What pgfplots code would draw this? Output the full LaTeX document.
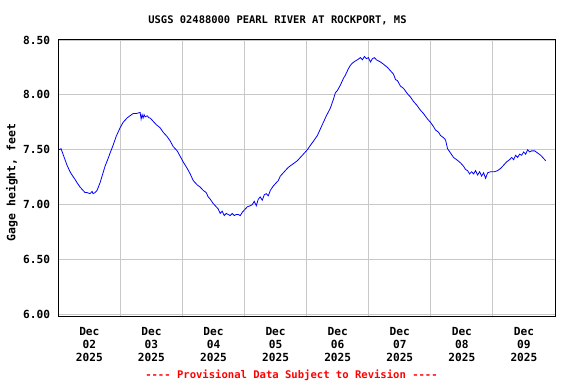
\documentclass[border=0pt]{standalone}
\usepackage{fontspec}
\setmainfont{DejaVu Sans Mono}
\usepackage{pgfplots}
\pgfplotsset{compat=1.18}
\usepackage{pgfplotstable}
\definecolor{gridgray}{RGB}{200,200,200}
\pgfplotstableread{
d v
0.011 7.50
0.044 7.51
0.076 7.46
0.108 7.41
0.140 7.36
0.189 7.30
0.221 7.27
0.269 7.23
0.302 7.20
0.350 7.16
0.382 7.14
0.431 7.11
0.463 7.11
0.511 7.10
0.544 7.12
0.560 7.10
0.592 7.11
0.624 7.13
0.673 7.20
0.721 7.29
0.753 7.35
0.802 7.42
0.834 7.47
0.882 7.54
0.931 7.62
0.995 7.70
1.044 7.75
1.108 7.79
1.156 7.81
1.205 7.83
1.253 7.83
1.318 7.84
1.334 7.78
1.350 7.82
1.366 7.79
1.382 7.82
1.398 7.80
1.431 7.81
1.463 7.79
1.479 7.79
1.527 7.76
1.576 7.73
1.640 7.70
1.689 7.66
1.753 7.62
1.802 7.58
1.850 7.53
1.915 7.49
1.963 7.44
2.011 7.39
2.076 7.33
2.124 7.28
2.173 7.22
2.237 7.18
2.285 7.16
2.334 7.13
2.382 7.11
2.415 7.07
2.447 7.05
2.495 7.01
2.544 6.98
2.576 6.96
2.608 6.92
2.640 6.94
2.673 6.90
2.705 6.92
2.737 6.91
2.769 6.90
2.802 6.92
2.834 6.90
2.866 6.91
2.898 6.91
2.931 6.90
2.963 6.93
2.995 6.95
3.044 6.98
3.092 6.99
3.124 7.00
3.156 7.03
3.189 6.99
3.221 7.05
3.253 7.07
3.285 7.04
3.318 7.09
3.350 7.10
3.382 7.08
3.415 7.13
3.463 7.17
3.511 7.20
3.544 7.22
3.576 7.26
3.624 7.29
3.656 7.31
3.705 7.34
3.753 7.36
3.802 7.38
3.850 7.40
3.898 7.43
3.947 7.46
4.011 7.50
4.060 7.54
4.124 7.59
4.173 7.63
4.221 7.69
4.269 7.75
4.318 7.81
4.382 7.88
4.431 7.96
4.463 8.02
4.495 8.04
4.544 8.09
4.592 8.15
4.624 8.18
4.673 8.24
4.705 8.27
4.737 8.29
4.786 8.31
4.818 8.32
4.866 8.34
4.898 8.32
4.931 8.35
4.963 8.33
4.995 8.34
5.027 8.30
5.060 8.33
5.092 8.34
5.124 8.32
5.156 8.31
5.189 8.30
5.237 8.28
5.302 8.25
5.350 8.22
5.398 8.19
5.431 8.14
5.463 8.13
5.511 8.08
5.560 8.06
5.624 8.01
5.673 7.98
5.721 7.94
5.769 7.91
5.834 7.86
5.882 7.83
5.947 7.78
5.995 7.75
6.044 7.71
6.076 7.68
6.124 7.66
6.156 7.63
6.205 7.61
6.237 7.59
6.269 7.51
6.318 7.47
6.366 7.43
6.415 7.41
6.479 7.38
6.527 7.35
6.560 7.32
6.592 7.31
6.624 7.28
6.657 7.30
6.689 7.28
6.721 7.31
6.753 7.27
6.786 7.30
6.818 7.26
6.850 7.29
6.882 7.24
6.915 7.29
6.963 7.30
7.027 7.30
7.076 7.31
7.124 7.33
7.173 7.36
7.221 7.39
7.269 7.41
7.302 7.43
7.334 7.41
7.366 7.45
7.398 7.43
7.431 7.46
7.463 7.45
7.495 7.48
7.527 7.46
7.560 7.50
7.592 7.48
7.624 7.49
7.673 7.49
7.721 7.47
7.769 7.45
7.802 7.43
7.850 7.40
}\gage
\begin{document}
\begin{tikzpicture}
\begin{axis}[
  at={(58.3bp,68bp)}, anchor=south west,
  scale only axis, width=496.7bp, height=276.5bp,
  xmin=0, xmax=8, ymin=5.985, ymax=8.505,
  axis line style={black, line width=1bp},
  tick style={draw=none},
  major tick length=0pt, minor tick length=0pt,
  ytick={6,6.5,7,7.5,8,8.5},
  yticklabels={6.00,6.50,7.00,7.50,8.00,8.50},
  ymajorgrids=true,
  xtick={0.5,1.5,2.5,3.5,4.5,5.5,6.5,7.5},
  xticklabels={Dec\\02\\2025,Dec\\03\\2025,Dec\\04\\2025,Dec\\05\\2025,Dec\\06\\2025,Dec\\07\\2025,Dec\\08\\2025,Dec\\09\\2025},
  minor xtick={1,2,3,4,5,6,7},
  xminorgrids=true, xmajorgrids=false,
  grid style={gridgray, line width=1bp},
  minor grid style={gridgray, line width=1bp},
  /pgf/number format/assume math mode=true,
  ticklabel style={font=\bfseries\fontsize{11.2}{13}\selectfont},
  yticklabel style={anchor=east, inner sep=0pt, xshift=-8bp},
  xticklabel style={anchor=north, align=center, inner sep=0pt, yshift=-11bp},
  clip=true,
]
\addplot[blue, line width=0.8bp] table[x=d, y=v] {\gage};
\end{axis}
\node[font=\bfseries\fontsize{10.5}{13}\selectfont] at (277.5bp,364bp) {USGS 02488000 PEARL RIVER AT ROCKPORT, MS};
\node[font=\bfseries\fontsize{11.5}{13}\selectfont, rotate=90] at (12bp,201.5bp) {Gage height, feet};
\node[font=\bfseries\fontsize{10.6}{13}\selectfont, text=red] at (291.5bp,9bp) {-\kern0pt-\kern0pt-\kern0pt- Provisional Data Subject to Revision -\kern0pt-\kern0pt-\kern0pt-};
\pgfresetboundingbox
\useasboundingbox (0,0) rectangle (576bp,384bp);
\end{tikzpicture}
\end{document}
